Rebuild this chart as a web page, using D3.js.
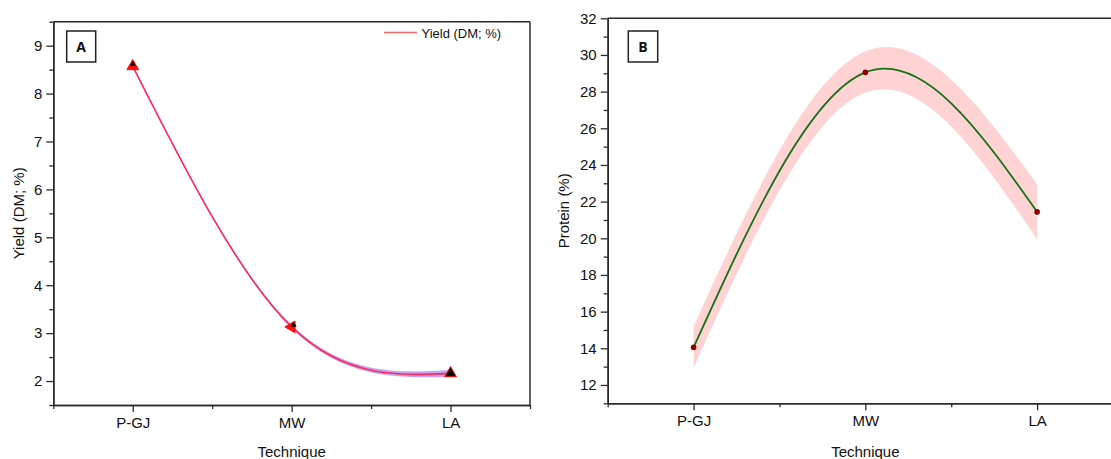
<!DOCTYPE html>
<html><head><meta charset="utf-8">
<script src="https://cdn.jsdelivr.net/npm/d3@7"></script>
<style>
html,body{margin:0;padding:0;background:#fff;}
svg{display:block;font-family:"Liberation Sans",Arial,sans-serif;}
</style></head>
<body>
<svg id="chart" width="1111" height="459"></svg>
<script>
const categories = ["P-GJ", "MW", "LA"];
const yieldValues = [8.57, 3.13, 2.16];
const yieldUpper = [8.58, 3.17, 2.23];
const yieldLower = [8.56, 3.10, 2.09];
const proteinValues = [14.05, 29.05, 21.44];
const proteinUpper = [15.2, 30.2, 22.95];
const proteinLower = [12.95, 27.95, 19.95];
const yTicksA = [2, 3, 4, 5, 6, 7, 8, 9];
const yMinorA = [1.5, 2.5, 3.5, 4.5, 5.5, 6.5, 7.5, 8.5, 9.5];
const yTicksB = [12, 14, 16, 18, 20, 22, 24, 26, 28, 30, 32];
const yMinorB = [11, 13, 15, 17, 19, 21, 23, 25, 27, 29, 31];
const xMinor = [0.5, 1.5, 2.5, 3.5];

const svg = d3.select("#chart");
const frameColor = "#2b2b2b";

function panel(opts) {
  const g = svg.append("g");
  const x = d3.scaleLinear().domain([0.5, 3.5]).range([opts.left, opts.right]);
  const y = d3.scaleLinear().domain(opts.yDomain).range([opts.bottom, opts.top]);
  const idx = categories.map((c, i) => i + 1);

  // band
  const area = d3.area().curve(d3.curveNatural)
    .x((d, i) => x(idx[i]))
    .y0((d, i) => y(opts.lower[i]))
    .y1((d, i) => y(opts.upper[i]));
  g.append("path").datum(opts.values).attr("d", area)
    .attr("fill", opts.bandColor).attr("stroke", "none");

  // line
  const line = d3.line().curve(d3.curveNatural)
    .x((d, i) => x(idx[i])).y(d => y(d));
  g.append("path").datum(opts.values).attr("d", line)
    .attr("fill", "none").attr("stroke", opts.lineColor).attr("stroke-width", opts.lineWidth);

  // markers
  opts.marker(g, opts.values.map((v, i) => [x(idx[i]), y(v)]));

  // axes
  const styleAxis = sel => {
    sel.selectAll(".domain").attr("stroke", frameColor).attr("stroke-width", 1.5);
    sel.selectAll(".tick line").attr("stroke", frameColor).attr("stroke-width", 1.3);
    sel.selectAll("text").attr("fill", "#111").style("font-size", "15px")
      .style("font-family", '"Liberation Sans",Arial,sans-serif');
  };
  g.append("g").attr("transform", `translate(0,${opts.bottom})`)
    .call(d3.axisBottom(x).tickValues(xMinor).tickSize(4).tickFormat("").tickSizeOuter(0))
    .call(styleAxis);
  g.append("g").attr("transform", `translate(0,${opts.bottom})`)
    .call(d3.axisBottom(x).tickValues(idx).tickSize(7).tickPadding(5)
      .tickFormat((d, i) => categories[i]).tickSizeOuter(0))
    .call(styleAxis);
  g.append("g").attr("transform", `translate(${opts.left},0)`)
    .call(d3.axisLeft(y).tickValues(opts.yMinor).tickSize(4).tickFormat("").tickSizeOuter(0))
    .call(styleAxis);
  g.append("g").attr("transform", `translate(${opts.left},0)`)
    .call(d3.axisLeft(y).tickValues(opts.yTicks).tickSize(7).tickPadding(4)
      .tickFormat(d3.format("d")).tickSizeOuter(0))
    .call(styleAxis);

  // frame top/right
  g.append("line").attr("x1", opts.left).attr("x2", opts.right)
    .attr("y1", opts.top).attr("y2", opts.top).attr("stroke", frameColor).attr("stroke-width", 1.5);
  g.append("line").attr("x1", opts.right).attr("x2", opts.right)
    .attr("y1", opts.top).attr("y2", opts.bottom).attr("stroke", frameColor).attr("stroke-width", 1.5);

  // axis titles
  g.append("text").attr("x", x(2)).attr("y", 457).attr("text-anchor", "middle")
    .style("font-size", "15px").attr("fill", "#111").text("Technique");
  g.append("text").attr("transform", `translate(${opts.yTitleX},${(opts.top + opts.bottom) / 2}) rotate(-90)`)
    .attr("text-anchor", "middle").style("font-size", "15px").attr("fill", "#111").text(opts.yTitle);

  // panel letter box
  g.append("rect").attr("x", opts.box[0]).attr("y", 31).attr("width", opts.box[1]).attr("height", 31)
    .attr("fill", "#fff").attr("stroke", "#222").attr("stroke-width", 1.5);
  g.append("text").attr("x", opts.box[0] + opts.box[1] / 2).attr("y", 52).attr("text-anchor", "middle")
    .style("font-size", "14px").style("font-weight", "bold").style("font-family", '"Open Sans","Liberation Sans",sans-serif')
    .attr("fill", "#111").text(opts.letter);
  return g;
}

const tri = d3.symbol().type(d3.symbolTriangle);

const gA = panel({
  left: 53.3, right: 530, top: 21.7, bottom: 405,
  yDomain: [1.5, 9.5], yTicks: yTicksA, yMinor: yMinorA,
  values: yieldValues, upper: yieldUpper, lower: yieldLower,
  bandColor: "rgba(150,90,240,0.55)", lineColor: "#ff2a55", lineWidth: 1.6,
  yTitle: "Yield (DM; %)", yTitleX: 24, box: [66.7, 29], letter: "A",
  marker: (g, pts) => {
    pts.forEach((p, i) => {
      const rot = i === 1 ? -90 : 0;
      g.append("path").attr("d", tri.size(60)()).attr("transform", `translate(${p[0]},${p[1]}) rotate(${rot})`)
        .attr("fill", i === 2 ? "#000" : "#ff1010").attr("stroke", "#ff1010").attr("stroke-width", 1);
      if (i !== 2) {
        g.append("path").attr("d", tri.size(16)()).attr("transform", `translate(${p[0] + (i === 1 ? 2 : 0)},${p[1] - 2})`)
          .attr("fill", "#000");
      }
    });
  }
});

// legend A
gA.append("line").attr("x1", 384).attr("x2", 417).attr("y1", 32.5).attr("y2", 32.5)
  .attr("stroke", "#f06a6a").attr("stroke-width", 1.5);
gA.append("text").attr("x", 421.5).attr("y", 37.5).style("font-size", "13px").attr("fill", "#111")
  .text("Yield (DM; %)");

panel({
  left: 607.7, right: 1123, top: 18.3, bottom: 403.3,
  yDomain: [11, 32], yTicks: yTicksB, yMinor: yMinorB,
  values: proteinValues, upper: proteinUpper, lower: proteinLower,
  bandColor: "#ffd3d3", lineColor: "#137313", lineWidth: 1.8,
  yTitle: "Protein (%)", yTitleX: 569, box: [628.3, 29.4], letter: "B",
  marker: (g, pts) => {
    g.selectAll(null).data(pts).enter().append("circle")
      .attr("cx", d => d[0]).attr("cy", d => d[1]).attr("r", 2.8).attr("fill", "#8b0000");
  }
});
</script>
</body></html>
